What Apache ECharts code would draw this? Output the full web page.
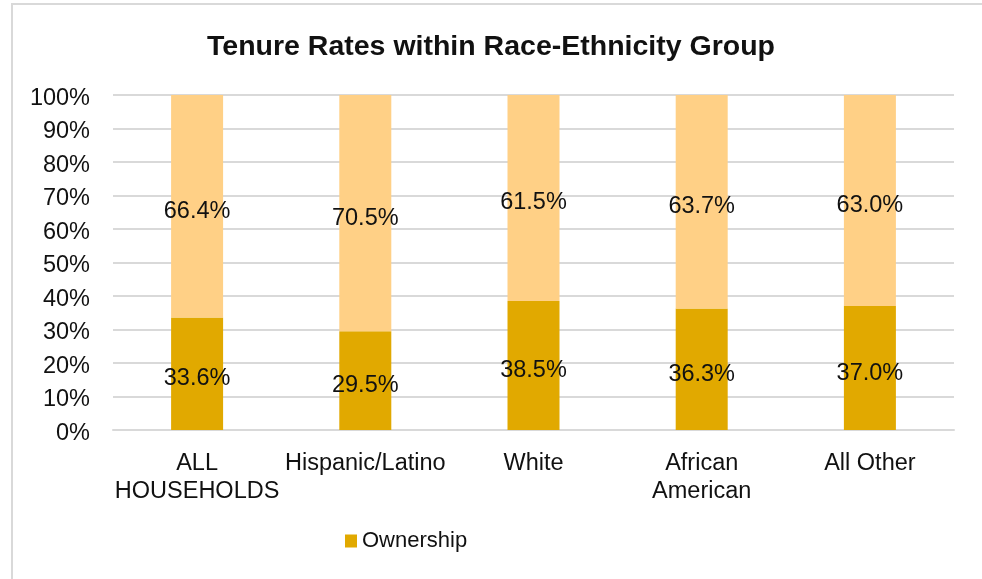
<!DOCTYPE html>
<html>
<head>
<meta charset="utf-8">
<script src="https://cdn.jsdelivr.net/npm/echarts@6/dist/echarts.min.js"></script>
<style>
  html, body { margin: 0; padding: 0; background: #ffffff; }
  #chart { width: 982px; height: 579px; }
</style>
</head>
<body>
<div id="chart"></div>
<script>
// Household tenure split by race/ethnicity (percent of households)
const categories = ['ALL\nHOUSEHOLDS', 'Hispanic/Latino', 'White', 'African\nAmerican', 'All Other'];
const ownership = [33.6, 29.5, 38.5, 36.3, 37.0];
const renting = [66.4, 70.5, 61.5, 63.7, 63.0];
const yTicks = [0, 10, 20, 30, 40, 50, 60, 70, 80, 90, 100];

const FONT = '"Liberation Sans", Arial, sans-serif';
const chart = echarts.init(document.getElementById('chart'), null, { renderer: 'canvas' });

const pctLabel = {
  show: true,
  position: 'inside',
  offset: [0, 5],
  color: '#111111',
  fontFamily: FONT,
  fontSize: 23.5,
  formatter: p => p.value.toFixed(1) + '%'
};

chart.setOption({
  backgroundColor: '#ffffff',
  animation: false,
  title: {
    text: 'Tenure Rates within Race-Ethnicity Group',
    left: 'center',
    top: 28,
    textStyle: {
      fontFamily: FONT,
      fontWeight: 'bold',
      fontSize: 28.5,
      color: '#111111'
    }
  },
  graphic: [{
    type: 'rect',
    shape: { x: 12, y: 4, width: 1000, height: 620 },
    style: { fill: 'none', stroke: '#d9d9d9', lineWidth: 2 },
    silent: true
  }],
  legend: {
    data: ['Ownership'],
    left: 340,
    top: 525,
    itemWidth: 12,
    itemHeight: 13,
    itemGap: 6,
    icon: 'rect',
    textStyle: { fontFamily: FONT, fontSize: 22, color: '#111111' }
  },
  grid: { left: 113, right: 28, top: 95, bottom: 149 },
  xAxis: {
    type: 'category',
    data: categories,
    axisLine: { lineStyle: { color: '#d9d9d9', width: 2 } },
    axisTick: { show: false },
    axisLabel: {
      fontFamily: FONT,
      fontSize: 23.5,
      color: '#111111',
      lineHeight: 28,
      margin: 20,
      interval: 0
    }
  },
  yAxis: {
    type: 'value',
    min: yTicks[0],
    max: yTicks[yTicks.length - 1],
    interval: 10,
    axisLine: { show: false },
    axisTick: { show: false },
    splitLine: { lineStyle: { color: '#d9d9d9', width: 2 } },
    axisLabel: {
      color: '#111111',
      margin: 23,
      formatter: v => '{t|' + v + '%}',
      rich: {
        t: {
          fontFamily: FONT,
          fontSize: 23.5,
          color: '#111111',
          padding: [7, 0, 0, 0]
        }
      }
    }
  },
  series: [
    {
      name: 'Ownership',
      type: 'bar',
      stack: 'tenure',
      data: ownership,
      barWidth: 52,
      itemStyle: { color: '#E1A900' },
      label: pctLabel
    },
    {
      name: 'Renting',
      type: 'bar',
      stack: 'tenure',
      data: renting,
      barWidth: 52,
      itemStyle: { color: '#FFD086' },
      label: pctLabel
    }
  ]
});
</script>
</body>
</html>
